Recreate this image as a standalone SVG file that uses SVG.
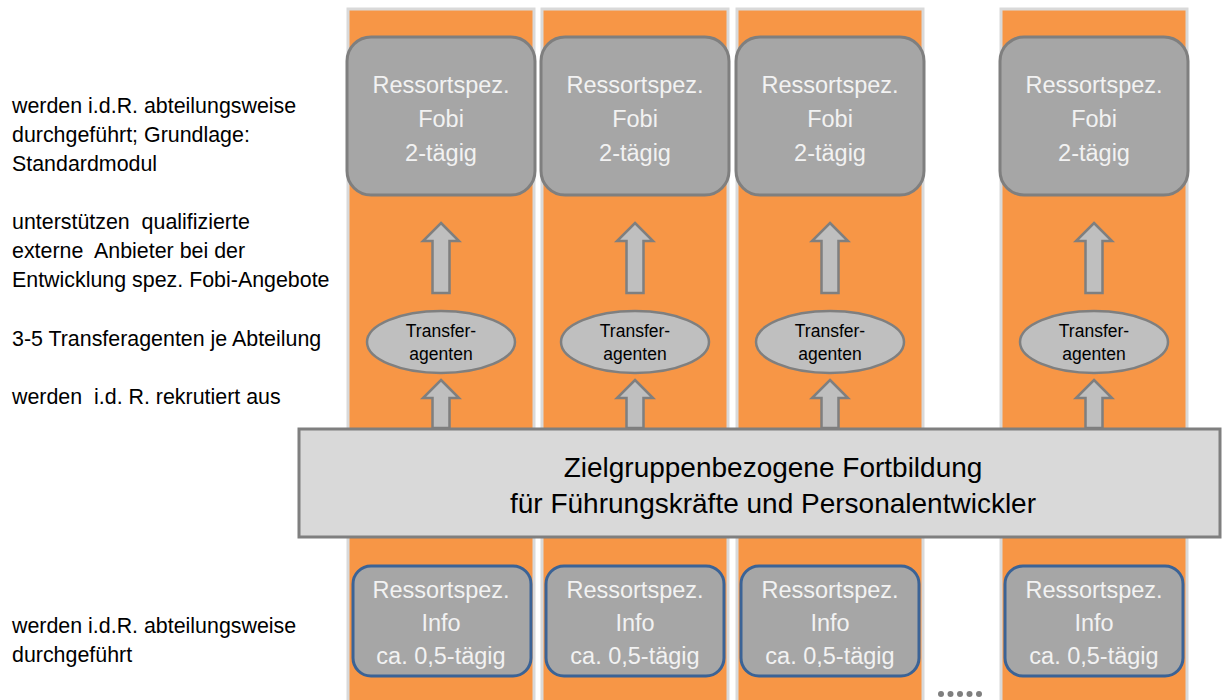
<svg xmlns="http://www.w3.org/2000/svg" width="1223" height="700" viewBox="0 0 1223 700">
<defs>
<style>
.col{fill:#f79646;stroke:#d9d9d9;stroke-width:3}
.fobi{fill:#a6a6a6;stroke:#7f7f7f;stroke-width:3}
.info{fill:#a6a6a6;stroke:#3b6396;stroke-width:3}
.wt{font-family:"Liberation Sans",Arial,sans-serif;font-size:23.5px;fill:#f2f2f2;text-anchor:middle}
.arr{fill:#bfbfbf;stroke:#7f7f7f;stroke-width:2.5;stroke-linejoin:miter}
.ell{fill:#bfbfbf;stroke:#7f7f7f;stroke-width:2.5}
.et{font-family:"Liberation Sans",Arial,sans-serif;font-size:17.5px;fill:#000;text-anchor:middle}
.lt{font-family:"Liberation Sans",Arial,sans-serif;font-size:21.4px;fill:#000}
.bt{font-family:"Liberation Sans",Arial,sans-serif;font-size:28px;fill:#000;text-anchor:middle}
.dot{fill:#7f7f7f}
</style>
<g id="bigArrow"><path class="arr" d="M0,-18 L18,0 L8.5,0 L8.5,52 L-8.5,52 L-8.5,0 L-18,0 Z"/></g>
<g id="smallArrow"><path class="arr" d="M0,-18 L18,0 L8.5,0 L8.5,30 L-8.5,30 L-8.5,0 L-18,0 Z"/></g>
</defs>
<rect width="1223" height="700" fill="#ffffff"/>

<g id="columns">
<rect class="col" x="348" y="9" width="186" height="700"/>
<rect class="col" x="542" y="9" width="186" height="700"/>
<rect class="col" x="737" y="9" width="186" height="700"/>
<rect class="col" x="1001" y="9" width="186" height="700"/>
</g>

<g id="left-text">
<text class="lt" x="12" y="113">werden i.d.R. abteilungsweise</text>
<text class="lt" x="12" y="142">durchgeführt; Grundlage:</text>
<text class="lt" x="12" y="171">Standardmodul</text>
<text class="lt" x="12" y="229" xml:space="preserve">unterstützen  qualifizierte</text>
<text class="lt" x="12" y="258" xml:space="preserve">externe  Anbieter bei der</text>
<text class="lt" x="12" y="287">Entwicklung spez. Fobi-Angebote</text>
<text class="lt" x="12" y="346">3-5 Transferagenten je Abteilung</text>
<text class="lt" x="12" y="404" xml:space="preserve">werden  i.d. R. rekrutiert aus</text>
<text class="lt" x="12" y="633">werden i.d.R. abteilungsweise</text>
<text class="lt" x="12" y="662">durchgeführt</text>
</g>

<g id="connectors">
<use href="#bigArrow" x="441" y="241"/>
<use href="#bigArrow" x="635" y="241"/>
<use href="#bigArrow" x="830" y="241"/>
<use href="#bigArrow" x="1094" y="241"/>
<use href="#smallArrow" x="441" y="398"/>
<use href="#smallArrow" x="635" y="398"/>
<use href="#smallArrow" x="830" y="398"/>
<use href="#smallArrow" x="1094" y="398"/>
</g>

<g id="fobi1"><rect class="fobi" x="347" y="37" width="188" height="158" rx="24"/>
<text class="wt" x="441" y="93">Ressortspez.</text><text class="wt" x="441" y="127">Fobi</text><text class="wt" x="441" y="161">2-tägig</text></g>
<g id="fobi2"><rect class="fobi" x="541" y="37" width="188" height="158" rx="24"/>
<text class="wt" x="635" y="93">Ressortspez.</text><text class="wt" x="635" y="127">Fobi</text><text class="wt" x="635" y="161">2-tägig</text></g>
<g id="fobi3"><rect class="fobi" x="736" y="37" width="188" height="158" rx="24"/>
<text class="wt" x="830" y="93">Ressortspez.</text><text class="wt" x="830" y="127">Fobi</text><text class="wt" x="830" y="161">2-tägig</text></g>
<g id="fobi4"><rect class="fobi" x="1000" y="37" width="188" height="158" rx="24"/>
<text class="wt" x="1094" y="93">Ressortspez.</text><text class="wt" x="1094" y="127">Fobi</text><text class="wt" x="1094" y="161">2-tägig</text></g>

<g id="ta1"><ellipse class="ell" cx="441" cy="342" rx="74" ry="31"/><text class="et" x="441" y="337">Transfer-</text><text class="et" x="441" y="360">agenten</text></g>
<g id="ta2"><ellipse class="ell" cx="635" cy="342" rx="74" ry="31"/><text class="et" x="635" y="337">Transfer-</text><text class="et" x="635" y="360">agenten</text></g>
<g id="ta3"><ellipse class="ell" cx="830" cy="342" rx="74" ry="31"/><text class="et" x="830" y="337">Transfer-</text><text class="et" x="830" y="360">agenten</text></g>
<g id="ta4"><ellipse class="ell" cx="1094" cy="342" rx="74" ry="31"/><text class="et" x="1094" y="337">Transfer-</text><text class="et" x="1094" y="360">agenten</text></g>

<g id="band"><rect x="299" y="429" width="921" height="108" fill="#d9d9d9" stroke="#7f7f7f" stroke-width="3"/>
<text class="bt" x="773" y="477">Zielgruppenbezogene Fortbildung</text>
<text class="bt" x="773" y="513">für Führungskräfte und Personalentwickler</text></g>

<g id="info1"><rect class="info" x="353" y="566" width="178" height="110" rx="18"/>
<text class="wt" x="441" y="598">Ressortspez.</text><text class="wt" x="441" y="631">Info</text><text class="wt" x="441" y="664">ca. 0,5-tägig</text></g>
<g id="info2"><rect class="info" x="546" y="566" width="178" height="110" rx="18"/>
<text class="wt" x="635" y="598">Ressortspez.</text><text class="wt" x="635" y="631">Info</text><text class="wt" x="635" y="664">ca. 0,5-tägig</text></g>
<g id="info3"><rect class="info" x="741" y="566" width="178" height="110" rx="18"/>
<text class="wt" x="830" y="598">Ressortspez.</text><text class="wt" x="830" y="631">Info</text><text class="wt" x="830" y="664">ca. 0,5-tägig</text></g>
<g id="info4"><rect class="info" x="1005" y="566" width="178" height="110" rx="18"/>
<text class="wt" x="1094" y="598">Ressortspez.</text><text class="wt" x="1094" y="631">Info</text><text class="wt" x="1094" y="664">ca. 0,5-tägig</text></g>

<g id="ellipsis">
<circle class="dot" cx="941" cy="694" r="3"/>
<circle class="dot" cx="950.5" cy="694" r="3"/>
<circle class="dot" cx="960" cy="694" r="3"/>
<circle class="dot" cx="969.5" cy="694" r="3"/>
<circle class="dot" cx="979" cy="694" r="3"/>
</g>
</svg>
